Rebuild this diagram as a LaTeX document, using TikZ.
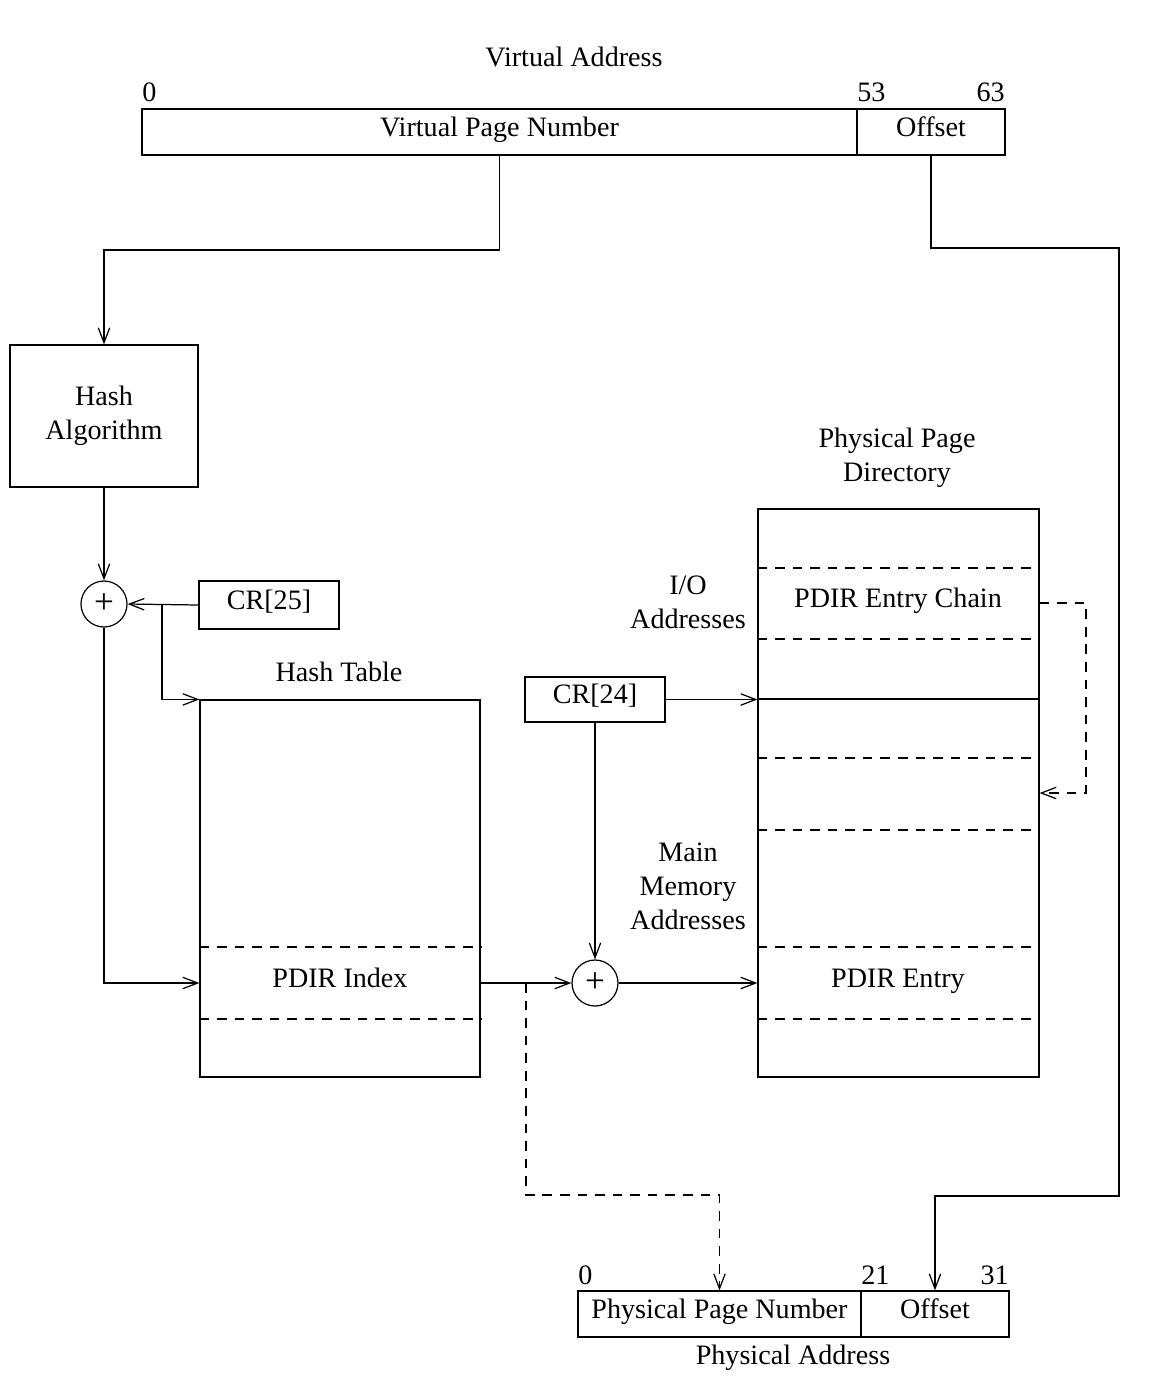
\documentclass[tikz,border=0pt]{standalone}
\usepackage{fontspec}
\setmainfont{Liberation Serif}
\usetikzlibrary{arrows.meta,calc}
\begin{document}
\begin{tikzpicture}[x=0.02cm,y=-0.02cm,
  every node/.style={font=\fontsize{16}{19.3}\selectfont},
  ln/.style={line width=0.7pt},
  box/.style={draw,ln,rectangle,inner sep=0pt},
  txtb/.style={text height=0.7em,text depth=0.22em},
  lbl/.style={align=center,inner sep=0pt},
  addc/.style={draw,ln,circle,minimum size=0.92cm,inner sep=0pt,font=\fontsize{20}{20}\selectfont},
  arr/.style={ln,-{Straight Barb[length=8.5pt,width=6.5pt,line width=0.7pt]}},
  dsh/.style={dash pattern=on 5.5pt off 4.5pt}]
\useasboundingbox (0,0) rectangle (1158,1384);

% Virtual address
\node[lbl] (va) at (574,57) {Virtual Address};
\node[box,txtb,minimum width=14.3cm,minimum height=0.92cm] (vpn) at (499.5,132) {Virtual Page Number};
\node[box,txtb,minimum width=2.96cm,minimum height=0.92cm] (voff) at (931,132) {Offset};
\node[anchor=base west,inner sep=0pt] (v0) at (142,101) {0};
\node[anchor=base west,inner sep=0pt] (v53) at (857,101) {53};
\node[anchor=base east,inner sep=0pt] (v63) at (1005,101) {63};

% Hash algorithm
\node[box,lbl,minimum width=3.76cm,minimum height=2.84cm] (hash) at (104,416) {Hash\\Algorithm};
\node[addc] (p1) at (104,604) {+};
\node[box,txtb,minimum width=2.8cm,minimum height=0.96cm] (cr25) at (269,605) {CR[25]};

% Hash table
\node[lbl] (htl) at (339,672) {Hash Table};
\node[box,minimum width=5.6cm,minimum height=7.54cm] (ht) at (340,888.5) {};
\draw[ln,dsh] (ht.west |- 0,947) -- (ht.east |- 0,947);
\draw[ln,dsh] (ht.west |- 0,1019) -- (ht.east |- 0,1019);
\node[lbl,txtb] (pdi) at (340,983) {PDIR Index};

% CR24 and adder
\node[box,txtb,minimum width=2.8cm,minimum height=0.9cm] (cr24) at (595,699.5) {CR[24]};
\node[addc] (p2) at (595,983) {+};

% Physical page directory
\node[lbl] (ppdl) at (897,458) {Physical Page\\Directory};
\node[box,minimum width=5.62cm,minimum height=11.36cm] (ppd) at (898.5,793) {};
\foreach \yy in {568,639,758,830,947,1019}
  \draw[ln,dsh] (ppd.west |- 0,\yy) -- (ppd.east |- 0,\yy);
\draw[ln] (ppd.west |- 0,699) -- (ppd.east |- 0,699);
\node[lbl,txtb] (pec) at (898,603) {PDIR Entry Chain};
\node[lbl,txtb] (pe) at (898,983) {PDIR Entry};
\node[lbl] (io) at (688,602) {I/O\\Addresses};
\node[lbl] (mm) at (688,886) {Main\\Memory\\Addresses};

% Physical address
\node[box,txtb,minimum width=5.66cm,minimum height=0.92cm] (ppn) at (719.5,1314) {Physical Page Number};
\node[box,txtb,minimum width=2.96cm,minimum height=0.92cm] (poff) at (935,1314) {Offset};
\node[anchor=base west,inner sep=0pt] (p0) at (578,1284) {0};
\node[anchor=base west,inner sep=0pt] (p21) at (861,1284) {21};
\node[anchor=base east,inner sep=0pt] (p31) at (1009,1284) {31};
\node[lbl] (pa) at (793,1358) {Physical Address};

% Connectors
\coordinate (j1) at (104,250);
\draw[arr] (vpn.south) |- (j1) -- (hash.north);
\coordinate (o1) at (1119,248);
\coordinate (o2) at (1119,1196);
\draw[arr] (voff.south) |- (o1) -- (o2) -| (poff.north);
\draw[arr] (hash.south) -- (p1.north);
\draw[arr] (cr25.west) -- (p1.east);
\coordinate (b1) at (162,604);
\draw[arr] (b1) |- (ht.north west);
\draw[arr] (p1.south) |- (pdi -| ht.west);
\draw[arr] (pdi -| ht.east) -- (p2.west);
\coordinate (d1) at (526,983);
\coordinate (d2) at (719.5,1195);
\draw[arr,dsh] (d1) |- (d2) -- (ppn.north);
\draw[arr] (cr24.east) -- (cr24.east -| ppd.west);
\draw[arr] (cr24.south) -- (p2.north);
\draw[arr] (p2.east) -- (p2.east -| ppd.west);
\coordinate (ch) at (1086,793);
\draw[arr,dsh] (pec -| ppd.east) -| (ch) -- (ch -| ppd.east);
\end{tikzpicture}
\end{document}
